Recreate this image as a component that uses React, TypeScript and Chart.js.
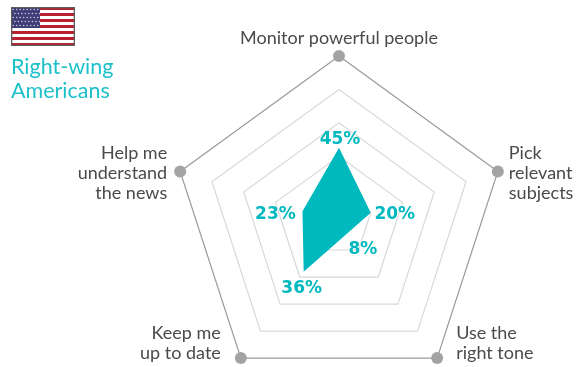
import React, { useEffect, useRef } from "react";
import { Chart, registerables } from "chart.js";

Chart.register(...registerables);

const categories = ["Monitor powerful people", "Pick relevant subjects", "Use the right tone", "Keep me up to date", "Help me understand the news"];
const axisLabelLines = [["Monitor powerful people"], ["Pick", "relevant", "subjects"], ["Use the", "right tone"], ["Keep me", "up to date"], ["Help me", "understand", "the news"]];
const shares = [45, 20, 8, 36, 23];
const outerRing = [100, 100, 100, 100, 100];
const titleLines = ["Right-wing", "Americans"];

const TEAL = "#00b9bf";
const TEXT = "#4a4a4a";
const LABEL_FONT = "18px Lato";
const VALUE_FONT = "800 17px 'DejaVu Sans'";

// Offset of each axis label block from its vertex: dx, dy of first baseline, alignment
const axisLabelPlacement = [
  { dx: 0, dy: -12, align: "center" },
  { dx: 11, dy: -12, align: "left" },
  { dx: 19, dy: -19, align: "left" },
  { dx: -20, dy: -19, align: "right" },
  { dx: -13, dy: -12, align: "right" },
];
// Offset of each value label's centre from its data vertex
const valueOffset = [
  { dx: 1, dy: -8 },
  { dx: 24, dy: 2 },
  { dx: 16, dy: 16 },
  { dx: -2, dy: 17 },
  { dx: -27, dy: 3 },
];

const labelPlugin = {
  id: "radarText",
  afterDraw(chart: any) {
    const { ctx } = chart;
    const r = chart.scales.r;
    ctx.save();
    ctx.fillStyle = TEXT;
    ctx.font = LABEL_FONT;
    ctx.textBaseline = "alphabetic";
    axisLabelLines.forEach((lines, i) => {
      const p = r.getPointPositionForValue(i, 100);
      const place = axisLabelPlacement[i];
      ctx.textAlign = place.align;
      lines.forEach((line, j) => ctx.fillText(line, p.x + place.dx, p.y + place.dy + j * 20));
    });
    ctx.fillStyle = TEAL;
    ctx.font = VALUE_FONT;
    ctx.textAlign = "center";
    ctx.textBaseline = "middle";
    shares.forEach((v, i) => {
      const p = r.getPointPositionForValue(i, v);
      ctx.fillText(v + "%", p.x + valueOffset[i].dx, p.y + valueOffset[i].dy);
    });
    ctx.restore();
  },
};

function Flag() {
  const stripes = [];
  for (let i = 0; i < 13; i += 1) {
    stripes.push(<rect key={i} x={0} y={i * 3} width={64} height={3} fill={i % 2 ? "#ffffff" : "#b9202f"} />);
  }
  const stars = [];
  for (let row = 0; row < 5; row += 1) {
    for (let col = 0; col < 8; col += 1) {
      stars.push(<circle key={row + "-" + col} cx={2.2 + col * 3.5 + (row % 2 ? 1.7 : 0)} cy={2.4 + row * 4} r={0.75} fill="#cfd2e6" />);
    }
  }
  return (
    <svg width={64} height={39} viewBox="0 0 64 39" style={{ position: "absolute", left: 11, top: 7 }}>
      {stripes}
      <rect x={0} y={0} width={29} height={21} fill="#3f3d78" />
      {stars}
      <rect x={0.5} y={0.5} width={63} height={38} fill="none" stroke="#5c5c5c" strokeWidth={1.6} />
    </svg>
  );
}

export default function App() {
  const ref = useRef<HTMLCanvasElement>(null);
  useEffect(() => {
    document.body.style.margin = "0";
    const chart = new Chart(ref.current!, {
      type: "radar",
      data: {
        labels: categories,
        datasets: [
          { label: "Right-wing Americans", data: shares, backgroundColor: TEAL, borderColor: TEAL, borderWidth: 0, fill: true, pointRadius: 0, tension: 0 },
          { label: "Scale maximum", data: outerRing, backgroundColor: "transparent", borderWidth: 0, fill: false, pointRadius: 6, pointBackgroundColor: "#a3a3a3", pointBorderWidth: 0 },
        ],
      },
      plugins: [labelPlugin],
      options: {
        animation: false,
        responsive: false,
        layout: { padding: { left: 172, right: 77, top: 56, bottom: 10 } },
        plugins: { legend: { display: false }, tooltip: { enabled: false } },
        scales: {
          r: {
            min: 0,
            max: 100,
            ticks: { display: false, stepSize: 20 },
            pointLabels: { display: false },
            angleLines: { display: false },
            grid: {
              color: (c: any) => (c.index === 5 ? "#9a9a9a" : "#d9d9d9"),
              lineWidth: 1.2,
            },
          },
        },
      },
    } as any);
    return () => chart.destroy();
  }, []);
  return (
    <div style={{ position: "relative", width: 583, height: 367, overflow: "hidden" }}>
      <canvas ref={ref} width={583} height={400} style={{ position: "absolute", left: 0, top: 0 }} />
      <Flag />
      <div style={{ position: "absolute", left: 11, top: 54, font: "21.5px/24px Lato", color: "#1cc0ca" }}>
        {titleLines.map((t) => (
          <div key={t}>{t}</div>
        ))}
      </div>
    </div>
  );
}
